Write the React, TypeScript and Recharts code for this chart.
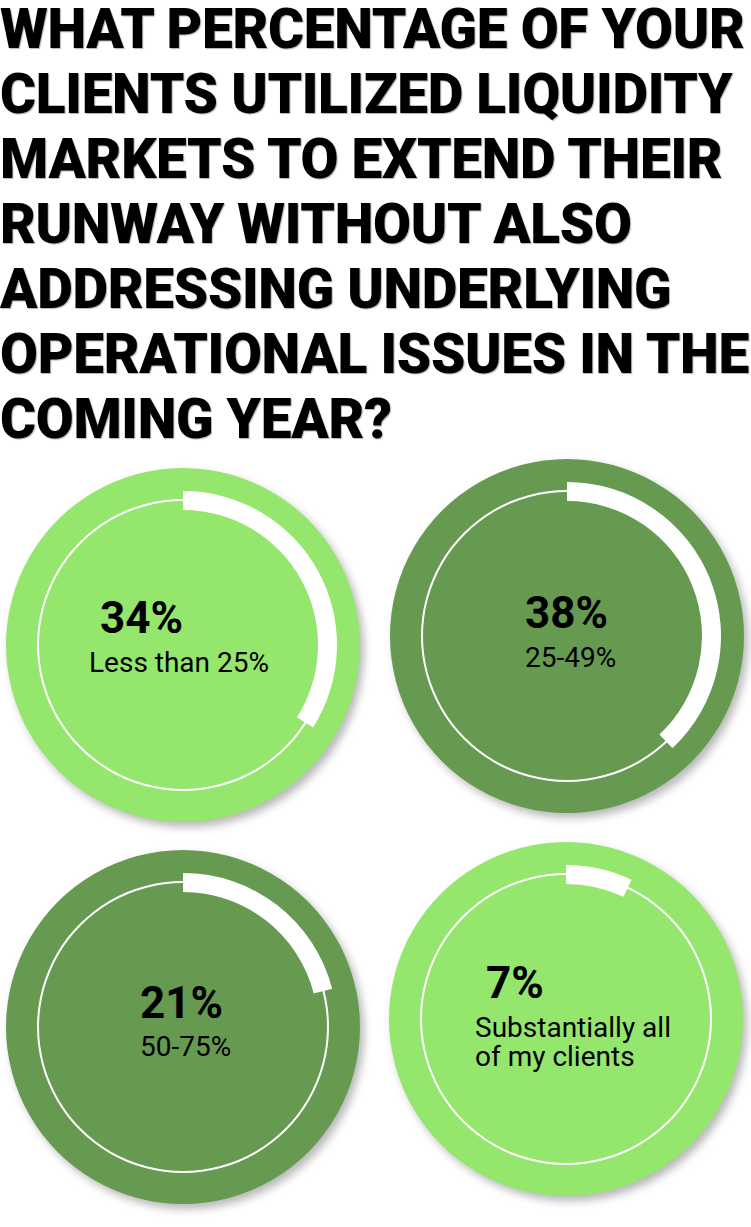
import React from "react";
import { PieChart, Pie, Cell } from "recharts";

// survey answers, one ring per bracket
const shares = [34, 38, 21, 7];
const shareLabels = ["34%", "38%", "21%", "7%"];
const brackets = [["Less than 25%"], ["25-49%"], ["50-75%"], ["Substantially all", "of my clients"]];

const title = [
  "WHAT PERCENTAGE OF YOUR",
  "CLIENTS UTILIZED LIQUIDITY",
  "MARKETS TO EXTEND THEIR",
  "RUNWAY WITHOUT ALSO",
  "ADDRESSING UNDERLYING",
  "OPERATIONAL ISSUES IN THE",
  "COMING YEAR?",
];

const LIGHT = "#94e66c";
const DARK = "#669a51";
const discColors = [LIGHT, DARK, DARK, LIGHT];

// layout of each ring: centre and text anchors (left x, baseline y)
const rings = [
  { cx: 183, cy: 645, numX: 100, numY: 633, subX: 89, subY: 672 },
  { cx: 567, cy: 636, numX: 525, numY: 628, subX: 525, subY: 667 },
  { cx: 183, cy: 1027, numX: 140, numY: 1018, subX: 140, subY: 1056 },
  { cx: 566, cy: 1019, numX: 486, numY: 998, subX: 475, subY: 1037 },
];

const SIZE = 380;
const HALF = SIZE / 2;
const NUM_FONT = 44;
const SUB_FONT = 28;
const SUB_LINE = 29;
// distance from the top of a line box to its baseline (Roboto metrics)
const baselineOffset = (font: number, line: number) => (line - 1.171 * font) / 2 + 0.927 * font;

function Ring({ index }: { index: number }) {
  const r = rings[index];
  const value = shares[index];
  const arcData = [
    { name: "share", value },
    { name: "rest", value: 100 - value },
  ];
  return (
    <>
      <div style={{ position: "absolute", left: r.cx - HALF, top: r.cy - HALF }}>
        <PieChart width={SIZE} height={SIZE} margin={{ top: 0, right: 0, bottom: 0, left: 0 }}>
          <Pie
            data={[{ value: 1 }]}
            dataKey="value"
            cx={HALF}
            cy={HALF}
            innerRadius={0}
            outerRadius={177}
            stroke="none"
            isAnimationActive={false}
          >
            <Cell
              fill={discColors[index]}
              style={{ filter: "drop-shadow(4px 5px 4px rgba(0,0,0,0.28))" }}
            />
          </Pie>
          <Pie
            data={[{ value: 1 }]}
            dataKey="value"
            cx={HALF}
            cy={HALF}
            innerRadius={144}
            outerRadius={146}
            stroke="none"
            fill="#ffffff"
            isAnimationActive={false}
          />
          <Pie
            data={arcData}
            dataKey="value"
            cx={HALF}
            cy={HALF}
            startAngle={90}
            endAngle={-270}
            innerRadius={135}
            outerRadius={154}
            stroke="none"
            isAnimationActive={false}
          >
            <Cell fill="#ffffff" />
            <Cell fill="transparent" />
          </Pie>
        </PieChart>
      </div>
      <div
        style={{
          position: "absolute",
          left: r.numX,
          top: r.numY - baselineOffset(NUM_FONT, NUM_FONT),
          fontSize: NUM_FONT,
          lineHeight: `${NUM_FONT}px`,
          fontWeight: 700,
          whiteSpace: "nowrap",
        }}
      >
        {shareLabels[index]}
      </div>
      {brackets[index].map((line, i) => (
        <div
          key={i}
          style={{
            position: "absolute",
            left: r.subX,
            top: r.subY + i * SUB_LINE - baselineOffset(SUB_FONT, SUB_LINE),
            height: SUB_LINE,
            fontSize: SUB_FONT,
            lineHeight: `${SUB_LINE}px`,
            whiteSpace: "nowrap",
          }}
        >
          {line}
        </div>
      ))}
    </>
  );
}

export default function App() {
  return (
    <div
      style={{
        position: "absolute",
        left: 0,
        top: 0,
        width: 751,
        height: 1227,
        background: "#ffffff",
        fontFamily: "Roboto, sans-serif",
        color: "#000000",
        overflow: "hidden",
      }}
    >
      <div
        style={{
          position: "absolute",
          left: 0,
          top: 0,
          fontSize: 55,
          fontWeight: 900,
          letterSpacing: -0.3,
          textShadow: "1px 1px 1px rgba(0,0,0,0.3)",
          whiteSpace: "nowrap",
        }}
      >
        {title.map((t, i) => (
          <div
            key={i}
            style={i === 0 ? { lineHeight: "59px", height: 62 } : { lineHeight: "65px" }}
          >
            {t}
          </div>
        ))}
      </div>
      {shares.map((_, i) => (
        <Ring key={i} index={i} />
      ))}
    </div>
  );
}
